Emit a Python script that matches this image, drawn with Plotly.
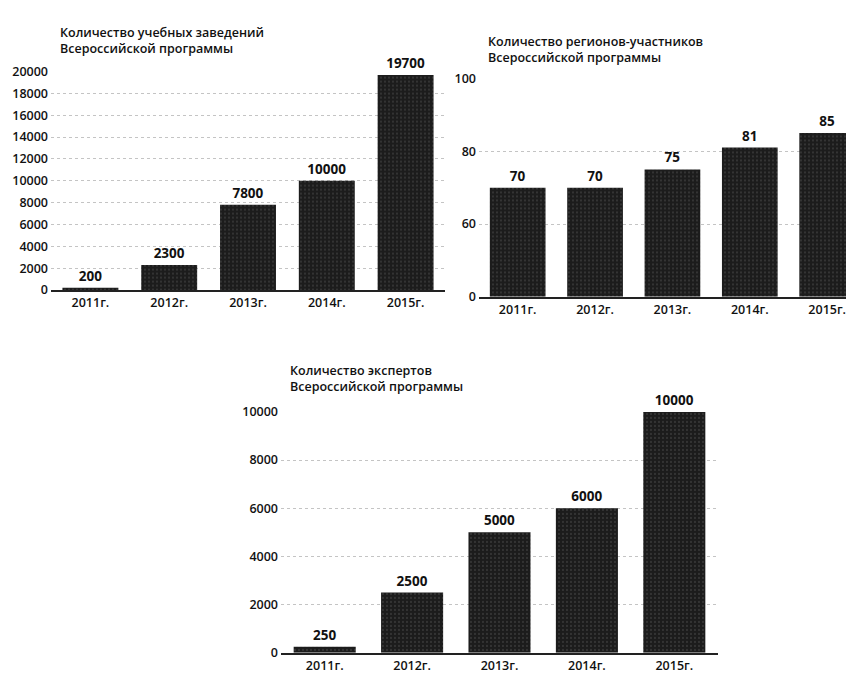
import plotly.graph_objects as go

years = ["2011г.", "2012г.", "2013г.", "2014г.", "2015г."]
institutions = [200, 2300, 7800, 10000, 19700]
regions = [70, 70, 75, 81, 85]
experts = [250, 2500, 5000, 6000, 10000]

title1 = "Количество учебных заведений<br>Всероссийской программы"
title2 = "Количество регионов-участников<br>Всероссийской программы"
title3 = "Количество экспертов<br>Всероссийской программы"

ticks1 = list(range(0, 20001, 2000))
ticks2_vals = [40, 60, 80, 100]
ticks2_text = ["0", "60", "80", "100"]
ticks3 = list(range(0, 10001, 2000))

W, H = 854, 682
FONT = "Open Sans"
BAR = "#1c1c1c"

def px_x(p):
    return p / W

def px_y(p):
    return 1 - p / H

pattern = dict(shape=".", fgcolor="#8a8a8a", bgcolor=BAR, size=4, solidity=0.12, fillmode="overlay")
valfont = dict(family=FONT, size=13.5, color="#111", weight=700)

def bar(x, y, xa, ya):
    return go.Bar(
        x=x, y=y, xaxis=xa, yaxis=ya,
        marker=dict(color=BAR, line=dict(width=0), pattern=pattern),
        width=0.71,
        text=[str(v) for v in y],
        textposition="outside",
        textfont=valfont,
        cliponaxis=False,
        showlegend=False,
        hoverinfo="skip",
    )

fig = go.Figure()
fig.add_trace(bar(years, institutions, "x", "y"))
# second chart uses a broken axis: the bottom of the visible scale is labelled 0
fig.add_trace(go.Bar(
    x=years, y=[v - 40 for v in regions], base=40, xaxis="x2", yaxis="y2",
    marker=dict(color=BAR, line=dict(width=0), pattern=pattern),
    width=0.72,
    text=[str(v) for v in regions], textposition="outside",
    textfont=valfont,
    cliponaxis=False, showlegend=False, hoverinfo="skip",
))
fig.add_trace(bar(years, experts, "x3", "y3"))

tickfont = dict(family=FONT, size=12.5, color="#111", weight=600)

def xaxis(d0, d1, anchor, rng):
    return dict(domain=[d0, d1], anchor=anchor, type="category", range=rng,
                showline=True, linecolor="#222", linewidth=1.6, ticks="",
                tickfont=tickfont, showgrid=False, fixedrange=True)

def yaxis(d0, d1, anchor, rng, tv, tt=None):
    a = dict(domain=[d0, d1], anchor=anchor, range=rng, tickvals=tv,
             ticktext=tt if tt is not None else [str(v) for v in tv],
             showgrid=True, gridcolor="#c4c4c4", griddash="dot", gridwidth=1,
             zeroline=False, showline=False, ticks="", tickfont=tickfont,
             fixedrange=True, ticklabelstandoff=2)
    return a

fig.update_layout(
    width=W, height=H,
    margin=dict(l=0, r=0, t=0, b=0),
    paper_bgcolor="white", plot_bgcolor="white",
    xaxis=xaxis(px_x(43), px_x(437), "y", [-0.5, 4.5]),
    yaxis=yaxis(px_y(280), px_y(56), "x", [0, 20000], ticks1),
    xaxis2=xaxis(px_x(471), 1.0, "y2", [-0.5, 4.45]),
    yaxis2=yaxis(px_y(287), px_y(63), "x2", [40, 100], ticks2_vals, ticks2_text),
    xaxis3=xaxis(px_x(273), px_x(710), "y3", [-0.5, 4.5]),
    yaxis3=yaxis(px_y(652), px_y(405), "x3", [0, 10000], ticks3),
    annotations=[
        dict(text=title1, x=px_x(50), y=px_y(24), xref="paper", yref="paper",
             xanchor="left", yanchor="middle", align="left", showarrow=False,
             font=dict(family=FONT, size=12.5, color="#111", weight=600)),
        dict(text=title2, x=px_x(478), y=px_y(33), xref="paper", yref="paper",
             xanchor="left", yanchor="middle", align="left", showarrow=False,
             font=dict(family=FONT, size=12.5, color="#111", weight=600)),
        dict(text=title3, x=px_x(280), y=px_y(371), xref="paper", yref="paper",
             xanchor="left", yanchor="middle", align="left", showarrow=False,
             font=dict(family=FONT, size=12.5, color="#111", weight=600)),
    ],
)

fig.write_html("out.html")
